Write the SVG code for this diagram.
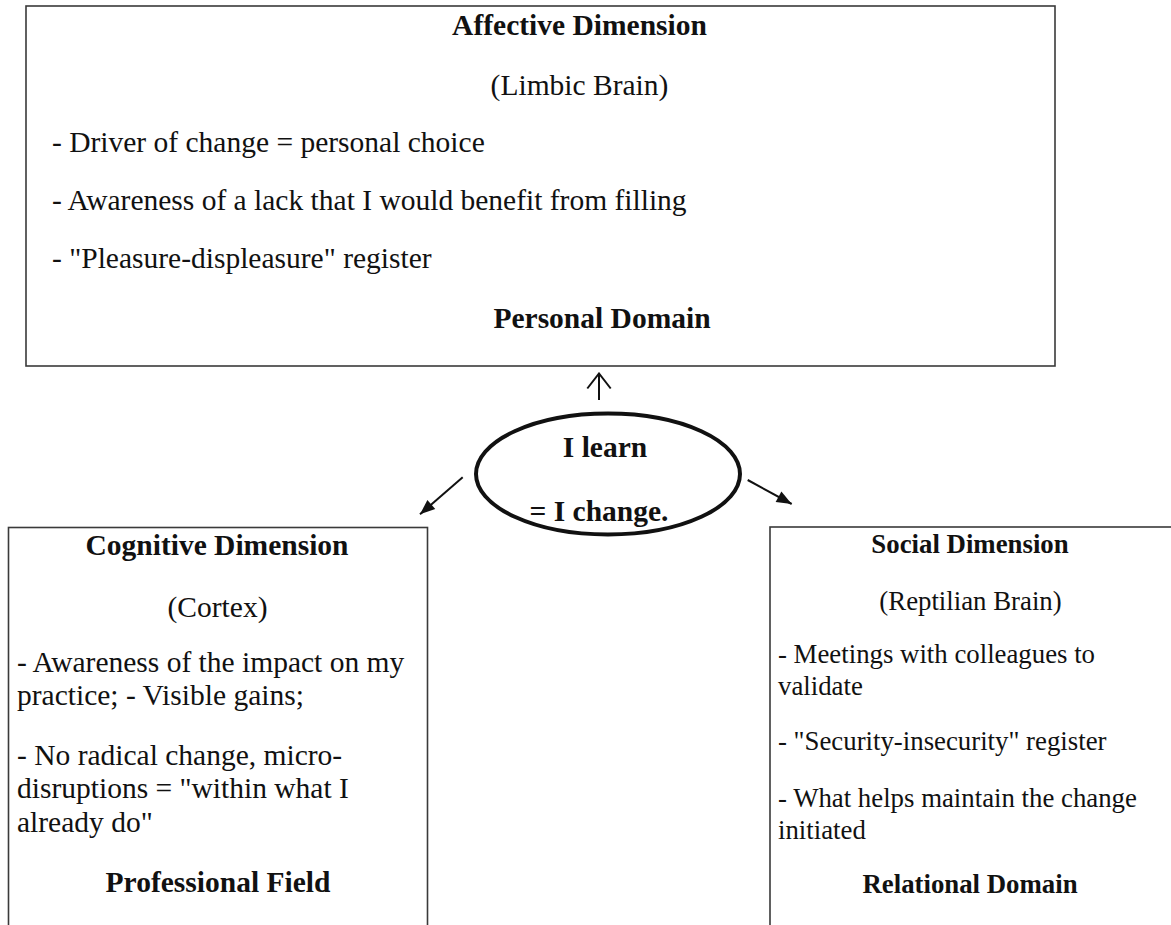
<svg xmlns="http://www.w3.org/2000/svg" width="1171" height="925" viewBox="0 0 1171 925">
<style>
.box{fill:#fff;stroke:#3a3a3a;stroke-width:1.6}
.t{font-family:"Liberation Serif","Times New Roman",serif;font-size:29.5px;fill:#111}
.s{font-size:26.8px}
.b{font-weight:bold}
.m{text-anchor:middle}
.conn{stroke:#111;stroke-width:2;fill:none}
</style>
<defs>
<marker id="open" viewBox="-17 -14 19 28" refX="0" refY="0" markerWidth="19" markerHeight="28" markerUnits="userSpaceOnUse" orient="auto">
<path d="M-15,-11.7 L0,0 L-15,11.7" fill="none" stroke="#111" stroke-width="2"/>
</marker>
<marker id="fill" viewBox="-17 -8 18 16" refX="0" refY="0" markerWidth="18" markerHeight="16" markerUnits="userSpaceOnUse" orient="auto">
<path d="M-15,-6 L0,0 L-15,6 Z" fill="#111"/>
</marker>
</defs>
<rect width="1171" height="925" fill="#fff"/>
<g id="affective">
<rect class="box" x="26" y="6" width="1029" height="360"/>
<text class="t b m" x="579.5" y="35">Affective Dimension</text>
<text class="t m" x="579.5" y="95">(Limbic Brain)</text>
<text class="t" x="52" y="152">- Driver of change = personal choice</text>
<text class="t" x="52" y="210">- Awareness of a lack that I would benefit from filling</text>
<text class="t" x="52" y="268">- "Pleasure-displeasure" register</text>
<text class="t b m" x="602" y="328">Personal Domain</text>
</g>
<g id="center">
<ellipse cx="608" cy="474" rx="132" ry="60.5" fill="#fff" stroke="#111" stroke-width="4"/>
<text class="t b m" x="605" y="457">I learn</text>
<text class="t b m" x="599" y="521">= I change.</text>
</g>
<g id="cognitive">
<rect class="box" x="8.5" y="527.5" width="419" height="420"/>
<text class="t b m" x="217" y="555">Cognitive Dimension</text>
<text class="t m" x="217.5" y="617">(Cortex)</text>
<text class="t" x="17" y="672">- Awareness of the impact on my</text>
<text class="t" x="17" y="705">practice; - Visible gains;</text>
<text class="t" x="17" y="765">- No radical change, micro-</text>
<text class="t" x="17" y="798">disruptions = "within what I</text>
<text class="t" x="17" y="832">already do"</text>
<text class="t b m" x="218" y="892">Professional Field</text>
</g>
<g id="social">
<rect class="box" x="770" y="527" width="420" height="420"/>
<text class="t s b m" x="970" y="553">Social Dimension</text>
<text class="t s m" x="970.5" y="610">(Reptilian Brain)</text>
<text class="t s" x="778" y="663">- Meetings with colleagues to</text>
<text class="t s" x="778" y="695">validate</text>
<text class="t s" x="778" y="750">- "Security-insecurity" register</text>
<text class="t s" x="778" y="806.5">- What helps maintain the change</text>
<text class="t s" x="778" y="838.5">initiated</text>
<text class="t s b m" x="970" y="893">Relational Domain</text>
</g>
<g id="connectors">
<line class="conn" x1="599" y1="400" x2="599" y2="373.5" marker-end="url(#open)"/>
<line class="conn" x1="462.7" y1="477.3" x2="420" y2="514.3" marker-end="url(#fill)"/>
<line class="conn" x1="747.7" y1="480" x2="791.7" y2="504" marker-end="url(#fill)"/>
</g>
</svg>
